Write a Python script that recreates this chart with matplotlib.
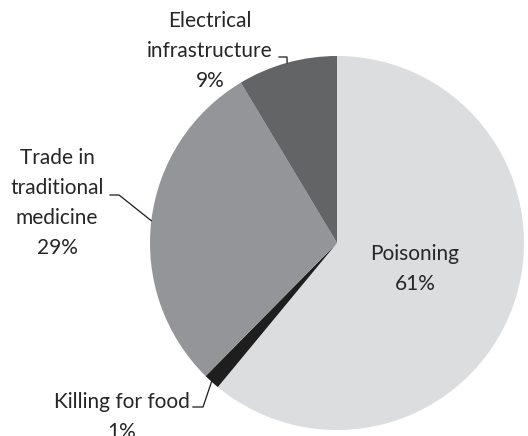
import numpy as np
import matplotlib.pyplot as plt

# Data
labels = ['Poisoning', 'Killing for food', 'Trade in\ntraditional\nmedicine', 'Electrical\ninfrastructure']
values = [61.0, 1.4, 29.0, 8.6]
pct_text = ['61%', '1%', '29%', '9%']
colors = ['#dcdddf', '#1e1e1e', '#939598', '#636466']

plt.rcParams['font.family'] = ['Lato', 'DejaVu Sans']
txt_color = '#262626'
fs = 15
ls = 1.62

W, H = 528, 436
cx, cy, R = 337, 243, 187  # pie centre/radius in pixels


def px(x, y):
    # pixel position -> data units (pie radius = 1)
    return (x - cx) / R, (cy - y) / R


fig = plt.figure(figsize=(W / 100, H / 100), dpi=100)
ax = fig.add_axes([0, 0, 1, 1])
wedges, _ = ax.pie(values, colors=colors, startangle=90, counterclock=False,
                   radius=1, center=(0, 0), wedgeprops=dict(linewidth=0))
ax.set_xlim(-cx / R, (W - cx) / R)
ax.set_ylim(-(H - cy) / R, cy / R)
ax.set_aspect('auto')
ax.axis('off')


def edge_point(w):
    a = np.deg2rad((w.theta1 + w.theta2) / 2)
    return np.cos(a), np.sin(a)


# Poisoning label inside
ax.text(*px(415, 269), labels[0] + '\n' + pct_text[0], ha='center', va='center',
        fontsize=fs, color=txt_color, linespacing=ls)

# Electrical infrastructure
ax.text(*px(210, 51), labels[3] + '\n' + pct_text[3], ha='center', va='center',
        fontsize=fs, color=txt_color, linespacing=ls)
ex, ey = edge_point(wedges[3])
x0, y0 = px(279, 57)
x1, y1 = px(287, 57)
ax.plot([x0, x1, ex], [y0, y1, ey], color='#1a1a1a', lw=0.9)

# Trade in traditional medicine
ax.text(*px(57, 203), labels[2] + '\n' + pct_text[2], ha='center', va='center',
        fontsize=fs, color=txt_color, linespacing=ls)
ex, ey = edge_point(wedges[2])
x0, y0 = px(110, 195)
x1, y1 = px(119, 195)
ax.plot([x0, x1, ex], [y0, y1, ey], color='#1a1a1a', lw=0.9)

# Killing for food
ax.text(*px(122, 417), labels[1] + '\n' + pct_text[1], ha='center', va='center',
        fontsize=fs, color=txt_color, linespacing=ls)
ex, ey = edge_point(wedges[1])
x0, y0 = px(193, 407)
x1, y1 = px(203, 407)
ax.plot([x0, x1, ex], [y0, y1, ey], color='#1a1a1a', lw=0.9)

fig.savefig('out.png', dpi=100, facecolor='white')
